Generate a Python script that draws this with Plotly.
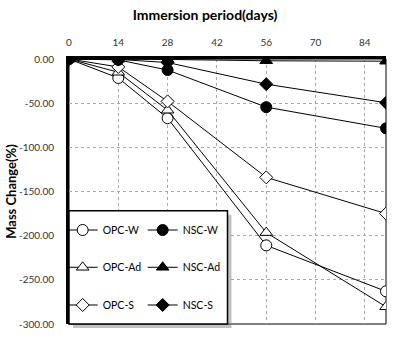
import plotly.graph_objects as go

# ---- data ----
days = [0, 14, 28, 56, 90]
opc_w = [0, -21.5, -67, -211, -263]
opc_ad = [0, -15, -58, -196.5, -280.5]
opc_s = [0, -9, -48, -134, -175]
nsc_w = [0, -1, -12.5, -54.5, -78.5]
nsc_ad = [0, 0, -0.5, -2, -2.5]
nsc_s = [0, -0.5, -4, -28.5, -49.5]

x_ticks = [0, 14, 28, 42, 56, 70, 84]
y_ticks = [0, -50, -100, -150, -200, -250, -300]
y_tick_labels = ["0.00", "-50.00", "-100.00", "-150.00", "-200.00", "-250.00", "-300.00"]

FONT = "Lato"

series = [
    ("OPC-W", opc_w, "circle", "white", 11, "legend"),
    ("NSC-W", nsc_w, "circle", "black", 11, "legend"),
    ("OPC-Ad", opc_ad, "triangle-up", "white", 11, "legend2"),
    ("NSC-Ad", nsc_ad, "triangle-up", "black", 11, "legend2"),
    ("OPC-S", opc_s, "diamond", "white", 10, "legend3"),
    ("NSC-S", nsc_s, "diamond", "black", 10, "legend3"),
]

fig = go.Figure()
for order in ("white", "black"):
    for name, vals, sym, fill, size, lg in series:
        if fill != order:
            continue
        fig.add_trace(go.Scatter(
            x=days, y=vals, name=name, mode="lines+markers",
            line=dict(color="black", width=1),
            marker=dict(symbol=sym, size=size, color=fill,
                        line=dict(color="black", width=1)),
            legend=lg,
        ))

def leg(yc):
    return dict(orientation="h", x=-0.02, xanchor="left", y=yc, yanchor="middle",
                bgcolor="rgba(0,0,0,0)", borderwidth=0, entrywidth=35,
                font=dict(family=FONT, size=10.5, color="black"),
                traceorder="normal")

BOX_R = 0.50

fig.update_layout(
    width=400, height=360,
    margin=dict(l=69, r=14, t=59, b=36, autoexpand=False),
    paper_bgcolor="white", plot_bgcolor="white",
    title=dict(text="<b>Immersion period(days)</b>", x=205/400, xref="container",
               xanchor="center", y=1-15/360, yref="container", yanchor="middle",
               font=dict(family=FONT, size=14, color="black")),
    legend=leg(0.3547),
    legend2=leg(0.2140),
    legend3=leg(0.0717),
    showlegend=True,
    xaxis=dict(
        side="top", range=[0, 90], tickvals=x_ticks,
        ticktext=[str(v) for v in x_ticks],
        tickfont=dict(family=FONT, size=10, color="#333"),
        showline=True, linecolor="black", linewidth=3,
        showgrid=True, gridcolor="#a8a8a8", griddash="dot", gridwidth=1,
        zeroline=False, ticks="", ticklabelstandoff=6, automargin=False,
    ),
    yaxis=dict(
        range=[-300, 0], tickvals=y_ticks, ticktext=y_tick_labels,
        tickfont=dict(family=FONT, size=10, color="#333"),
        showline=True, linecolor="black", linewidth=3,
        showgrid=True, gridcolor="#a8a8a8", griddash="dot", gridwidth=1,
        zeroline=False, ticks="", ticklabelstandoff=10, automargin=False,
        title=dict(text="<b>Mass Change(%)</b>", standoff=0,
                   font=dict(family=FONT, size=13, color="black")),
    ),
    shapes=[
        dict(type="rect", xref="paper", yref="paper", x0=0, x1=1, y0=0, y1=1,
             line=dict(color="black", width=1), layer="below"),
        dict(type="rect", xref="paper", yref="paper",
             x0=4/317, x1=BOX_R+4/317, y0=-4/265, y1=0.4275-4/265,
             line=dict(width=0), fillcolor="rgba(120,120,120,0.45)", layer="above"),
        dict(type="rect", xref="paper", yref="paper",
             x0=0, x1=BOX_R, y0=0, y1=0.4275,
             line=dict(color="black", width=1.5), fillcolor="white", layer="above"),
    ],
)

fig.write_html("out.html", config={"displayModeBar": False},
               post_script="document.body.style.margin='0px';")
